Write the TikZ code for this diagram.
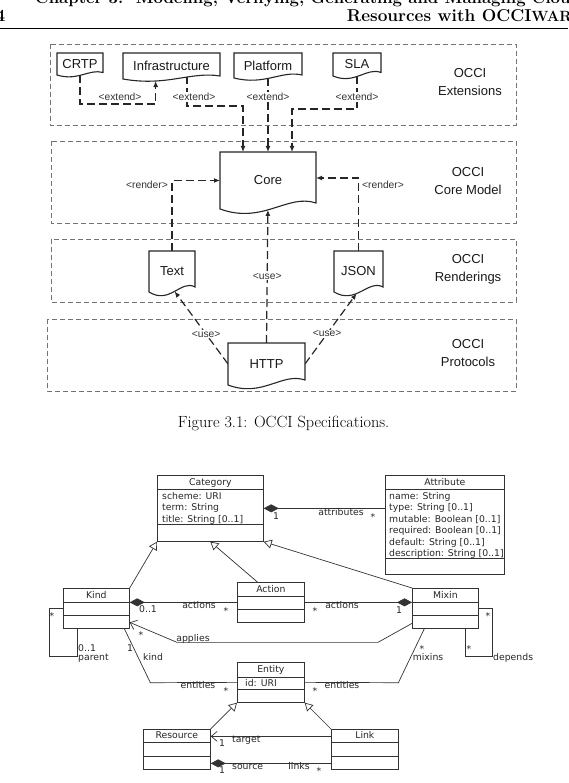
\documentclass[tikz,border=0pt]{standalone}
\usepackage{fontspec}
\newfontfamily\lsans{Liberation Sans}
\newfontfamily\dvs{DejaVu Sans}
\usetikzlibrary{arrows.meta,calc}
\pgfdeclarelayer{bg}
\pgfdeclarelayer{mid}
\pgfsetlayers{bg,mid,main}
\newcommand{\docout}[3]{%
  \begin{pgfonlayer}{mid}
  \draw[docline] (#1.north west) -- (#1.north east) -- ([yshift=#2pt]#1.south east)
    .. controls ([yshift=2.6*#2pt]$(#1.south west)!0.7!(#1.south east)$)
       and ([yshift=-2.6*#2pt]$(#1.south west)!0.45!(#1.south east)$) ..
    coordinate[pos=#3] (#1-in) (#1.south west) -- cycle;
  \end{pgfonlayer}}
\begin{document}
\begin{tikzpicture}[x=1pt,y=-1pt,
  docnode/.style={anchor=north west, inner sep=0pt, outer sep=0pt, font=\lsans\fontsize{13}{15}\selectfont, text=black!90},
  docline/.style={draw=black!85, line width=1.1pt, fill=white},
  dep/.style={draw=black!85, line width=1.2pt, dash pattern=on 8pt off 4pt, -{Latex[length=6pt,width=5pt]}},
  lbl/.style={font=\lsans\fontsize{10.3}{12}\selectfont, fill=white, inner sep=1pt, text=black!80},
  layerbox/.style={draw=black!55, line width=0.8pt, dash pattern=on 5pt off 3pt},
  layerlbl/.style={font=\lsans\fontsize{13}{18}\selectfont, align=center, text=black!90},
  cls/.style={draw=black!80, line width=0.7pt, anchor=north west, inner sep=0pt},
  clsline/.style={draw=black!80, line width=0.7pt},
  ut/.style={font=\dvs\fontsize{9.3}{11}\selectfont, text=black!85, inner sep=0pt, text height=6.8pt, text depth=0pt},
  gen/.style={draw=black!80, line width=0.7pt, -{Triangle[open,length=8pt,width=9pt]}},
  assoc/.style={draw=black!80, line width=0.7pt},
  comp/.style={assoc, {Diamond[length=15pt,width=8pt]}-},
  compr/.style={assoc, -{Diamond[length=15pt,width=8pt]}},
  nav/.style={assoc, -{Straight Barb[length=6pt,width=10pt]}},
  hdr/.style={inner sep=0pt, font=\bfseries\fontsize{17.2}{20}\selectfont}
]
\useasboundingbox (0,0) rectangle (568,783);

% ---------- page header ----------
\node[hdr, anchor=base west, font=\bfseries\fontsize{16.7}{20}\selectfont] (h1) at (35,4) {Chapter 3.\ \ Modeling, Verifying, Generating and Managing Cloud};
\node[hdr, anchor=base east] (pg) at (5.5,22) {4};
\node[hdr, anchor=base east] (h2) at (572,22) {Resources with OCCI{\fontsize{14.8}{14.8}\selectfont WAR}};
\draw[line width=0.9pt] (0,28) -- (568,28);

% ---------- figure 3.1 ----------
\begin{pgfonlayer}{bg}
\draw[layerbox] (50,44) rectangle (516,125);
\draw[layerbox] (51,141) rectangle (516,223);
\draw[layerbox] (51,239) rectangle (516,302);
\draw[layerbox] (47,319) rectangle (516,391);
\end{pgfonlayer}
\node[layerlbl] (l1) at (470,82.5) {OCCI\\Extensions};
\node[layerlbl] (l2) at (468,181.5) {OCCI\\Core Model};
\node[layerlbl] (l3) at (468,269) {OCCI\\Renderings};
\node[layerlbl] (l4) at (468,353.5) {OCCI\\Protocols};

\node[docnode, minimum width=46pt, minimum height=22pt] (crtp) at (57,53) {CRTP};
\node[docnode, minimum width=97pt, minimum height=26pt] (infra) at (123,53) {Infrastructure};
\node[docnode, minimum width=68pt, minimum height=25pt] (platform) at (234,53) {Platform};
\node[docnode, minimum width=48pt, minimum height=23pt] (sla) at (333,53) {SLA};
\node[docnode, minimum width=96pt, minimum height=57pt] (core) at (220,152) {Core};
\node[docnode, minimum width=46pt, minimum height=41pt] (text) at (149,251) {Text};
\node[docnode, minimum width=49pt, minimum height=41pt] (json) at (334,251) {JSON};
\node[docnode, minimum width=77pt, minimum height=42pt] (http) at (228,343) {HTTP};

\docout{crtp}{2.5}{0.5}
\docout{infra}{3}{0.72}
\docout{platform}{3}{0.5}
\docout{sla}{3.5}{0.5}
\docout{core}{6}{0.56}
\docout{text}{5}{0.5}
\docout{json}{5}{0.6}
\docout{http}{5}{0.5}

\begin{pgfonlayer}{bg}
\draw[dep] (crtp.south) -- ++(0,29) -| (infra-in);
\draw[dep] ([xshift=15.5pt,yshift=3pt]infra.south) -- ++(0,30) -| ([xshift=-25pt]core.north);
\draw[dep] (platform.south) -- (core.north);
\draw[dep] (sla.south) -- ++(0,33) -| ([xshift=24pt]core.north);
\draw[dep] (text.north) |- (core.west);
\draw[dep] (json.north) |- ([yshift=2.5pt]core.east);
\draw[dep] (http.north) -- node[lbl, pos=0.5] (u1) {<use>} (core-in);
\draw[dep] (http.west) -- node[lbl, pos=0.41] (u2) {<use>} (text-in);
\draw[dep] (http.east) -- node[lbl, pos=0.43] (u3) {<use>} (json-in);
\end{pgfonlayer}
\node[lbl] (x1) at (120,97) {<extend>};
\node[lbl] (x2) at (194,97) {<extend>};
\node[lbl] (x3) at (268,97) {<extend>};
\node[lbl] (x4) at (357,97) {<extend>};
\node[lbl] (r1) at (147,185) {<render>};
\node[lbl] (r2) at (383,185) {<render>};

\node[anchor=base, inner sep=0pt, font=\fontsize{16.2}{19}\selectfont] (cap) at (283.5,427) {Figure 3.1: OCCI Specifications.};

% ---------- UML class diagram ----------
\node[cls, minimum width=106pt, minimum height=66pt] (cat) at (157,475) {};
\draw[clsline] ([yshift=-14pt]cat.north west) -- ([yshift=-14pt]cat.north east);
\draw[clsline] ([yshift=-49pt]cat.north west) -- ([yshift=-49pt]cat.north east);
\node[ut] (catn) at ([yshift=-7pt]cat.north) {Category};
\node[ut, anchor=west] (ca1) at (162,496) {scheme: URI};
\node[ut, anchor=west] (ca2) at (162,507.5) {term: String};
\node[ut, anchor=west] (ca3) at (162,519) {title: String [0..1]};

\node[cls, minimum width=119pt, minimum height=99pt] (attr) at (385,475) {};
\draw[clsline] ([yshift=-14pt]attr.north west) -- ([yshift=-14pt]attr.north east);
\draw[clsline] ([yshift=-83pt]attr.north west) -- ([yshift=-83pt]attr.north east);
\node[ut] (attrn) at ([yshift=-7pt]attr.north) {Attribute};
\node[ut, anchor=west] (aa1) at (389,496) {name: String};
\node[ut, anchor=west] (aa2) at (389,507.5) {type: String [0..1]};
\node[ut, anchor=west] (aa3) at (389,519) {mutable: Boolean [0..1]};
\node[ut, anchor=west] (aa4) at (389,530.5) {required: Boolean [0..1]};
\node[ut, anchor=west] (aa5) at (389,542) {default: String [0..1]};
\node[ut, anchor=west] (aa6) at (389,553) {description: String [0..1]};

\node[cls, minimum width=66pt, minimum height=40pt] (kind) at (63,588) {};
\draw[clsline] ([yshift=-14pt]kind.north west) -- ([yshift=-14pt]kind.north east);
\draw[clsline] ([yshift=-27pt]kind.north west) -- ([yshift=-27pt]kind.north east);
\node[ut] (kindn) at ([yshift=-7pt]kind.north) {Kind};

\node[cls, minimum width=67pt, minimum height=40pt] (action) at (237,582) {};
\draw[clsline] ([yshift=-14pt]action.north west) -- ([yshift=-14pt]action.north east);
\draw[clsline] ([yshift=-27pt]action.north west) -- ([yshift=-27pt]action.north east);
\node[ut] (actionn) at ([yshift=-7pt]action.north) {Action};

\node[cls, minimum width=66pt, minimum height=40pt] (mixin) at (412,588) {};
\draw[clsline] ([yshift=-14pt]mixin.north west) -- ([yshift=-14pt]mixin.north east);
\draw[clsline] ([yshift=-27pt]mixin.north west) -- ([yshift=-27pt]mixin.north east);
\node[ut] (mixinn) at ([yshift=-7pt]mixin.north) {Mixin};

\node[cls, minimum width=67pt, minimum height=40pt] (entity) at (237,662) {};
\draw[clsline] ([yshift=-15pt]entity.north west) -- ([yshift=-15pt]entity.north east);
\draw[clsline] ([yshift=-27pt]entity.north west) -- ([yshift=-27pt]entity.north east);
\node[ut] (entityn) at ([yshift=-7.5pt]entity.north) {Entity};
\node[ut, anchor=west] (ea1) at (245,683.5) {id: URI};

\node[cls, minimum width=67pt, minimum height=40pt] (resource) at (143,729) {};
\draw[clsline] ([yshift=-13pt]resource.north west) -- ([yshift=-13pt]resource.north east);
\draw[clsline] ([yshift=-27pt]resource.north west) -- ([yshift=-27pt]resource.north east);
\node[ut] (resourcen) at ([yshift=-6.5pt]resource.north) {Resource};

\node[cls, minimum width=67pt, minimum height=40pt] (link) at (331,729) {};
\draw[clsline] ([yshift=-13pt]link.north west) -- ([yshift=-13pt]link.north east);
\draw[clsline] ([yshift=-27pt]link.north west) -- ([yshift=-27pt]link.north east);
\node[ut] (linkn) at ([yshift=-6.5pt]link.north) {Link};

% connectors
\draw[gen] (kind.north east) -- (cat.south west);
\draw[gen] ([xshift=-13.5pt]action.north) -- (cat.south);
\draw[gen] (mixin.north west) -- (cat.south east);
\draw[comp] (cat.east) -- (cat.east -| attr.west);
\draw[comp] (action.west -| kind.east) -- (action.west);
\draw[compr] (action.east) -- (action.east -| mixin.west);
\draw[assoc] (kind.west) -- ++(-14,0) -- ++(0,48) -| ([xshift=-19pt]kind.south);
\draw[assoc] (mixin.east) -- ++(14,0) -- ++(0,48) -| ([xshift=20pt]mixin.south);
\draw[nav] ([yshift=-15pt]mixin.west) -- ++(-34,19) -- ++(-201,0) -- ([yshift=-14pt]kind.east);
\draw[assoc] ([xshift=28pt]kind.south) -- ++(26,54) -- (entity.west);
\draw[assoc] ([xshift=-21pt]mixin.south) -- ++(-26,54) -- (entity.east);
\draw[gen] (resource.north east) -- (entity.south west);
\draw[gen] (link.north west) -- (entity.south east);
\draw[nav] ([yshift=13pt]link.west) -- ([yshift=13pt]resource.east);
\draw[comp] ([yshift=-14pt]resource.east) -- ([yshift=-14pt]link.west);

% association labels
\node[ut] (m1) at (276,516) {1};
\node[ut] (m2) at (341,512) {attributes};
\node[ut] (m3) at (373,517) {*};
\node[ut] (m4) at (148,609) {0..1};
\node[ut] (m5) at (199,605) {actions};
\node[ut] (m6) at (226,611) {*};
\node[ut] (m7) at (315,611) {*};
\node[ut] (m8) at (342,605) {actions};
\node[ut] (m9) at (399,610) {1};
\node[ut] (m10) at (52,616) {*};
\node[ut] (m11) at (488,616) {*};
\node[ut] (m12) at (141,635) {*};
\node[ut] (m13) at (193,638) {applies};
\node[ut, anchor=west] (m14) at (78,648) {0..1};
\node[ut, anchor=west] (m15) at (78,657) {parent};
\node[ut] (m16) at (130,648) {1};
\node[ut, anchor=west] (m17) at (143,657) {kind};
\node[ut] (m18) at (422,649) {*};
\node[ut] (m19) at (428,657) {mixins};
\node[ut] (m20) at (469,649) {*};
\node[ut, anchor=west] (m21) at (493,657) {depends};
\node[ut] (m22) at (198,685) {entities};
\node[ut] (m23) at (226,691) {*};
\node[ut] (m24) at (315,691) {*};
\node[ut] (m25) at (342,685) {entities};
\node[ut] (m26) at (222,743) {1};
\node[ut, anchor=west] (m27) at (232,739) {target};
\node[ut] (m28) at (222,770) {1};
\node[ut, anchor=west] (m29) at (232,766) {source};
\node[ut] (m30) at (299,766) {links};
\node[ut] (m31) at (319,771) {*};
\end{tikzpicture}
\end{document}
